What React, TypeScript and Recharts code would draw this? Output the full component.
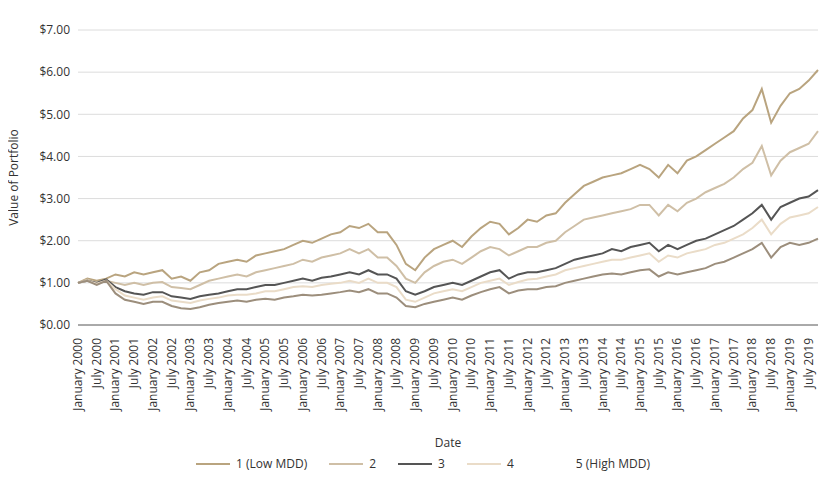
import React from 'react';
import { LineChart, Line, XAxis, YAxis, CartesianGrid, Legend } from 'recharts';

const years = Array.from({ length: 20 }, (_, i) => 2000 + i);
const quarters = ['January', 'April', 'July', 'October'];
const dates = years.flatMap((y) => quarters.map((q) => `${q} ${y}`));

const mdd1 = [
    1.0, 1.1, 1.05, 1.1, 1.2, 1.15, 1.25, 1.2, 1.25, 1.3, 1.1, 1.15, 1.05, 1.25, 1.3, 1.45,
    1.5, 1.55, 1.5, 1.65, 1.7, 1.75, 1.8, 1.9, 2.0, 1.95, 2.05, 2.15, 2.2, 2.35, 2.3, 2.4,
    2.2, 2.2, 1.9, 1.45, 1.3, 1.6, 1.8, 1.9, 2.0, 1.85, 2.1, 2.3, 2.45, 2.4, 2.15, 2.3,
    2.5, 2.45, 2.6, 2.65, 2.9, 3.1, 3.3, 3.4, 3.5, 3.55, 3.6, 3.7, 3.8, 3.7, 3.5, 3.8,
    3.6, 3.9, 4.0, 4.15, 4.3, 4.45, 4.6, 4.9, 5.1, 5.6, 4.8, 5.2, 5.5, 5.6, 5.8, 6.05,
];
const mdd2 = [
    1.0, 1.08, 1.0, 1.05, 1.0, 0.95, 1.0, 0.95, 1.0, 1.02, 0.9, 0.88, 0.85, 0.95, 1.05, 1.1,
    1.15, 1.2, 1.15, 1.25, 1.3, 1.35, 1.4, 1.45, 1.55, 1.5, 1.6, 1.65, 1.7, 1.8, 1.7, 1.8,
    1.6, 1.6, 1.4, 1.1, 1.0, 1.25, 1.4, 1.5, 1.55, 1.45, 1.6, 1.75, 1.85, 1.8, 1.65, 1.75,
    1.85, 1.85, 1.95, 2.0, 2.2, 2.35, 2.5, 2.55, 2.6, 2.65, 2.7, 2.75, 2.85, 2.85, 2.6, 2.85,
    2.7, 2.9, 3.0, 3.15, 3.25, 3.35, 3.5, 3.7, 3.85, 4.25, 3.55, 3.9, 4.1, 4.2, 4.3, 4.6,
];
const mdd3 = [
    1.0, 1.05, 1.0, 1.08, 0.9, 0.8, 0.75, 0.72, 0.78, 0.78, 0.68, 0.65, 0.62, 0.68, 0.72, 0.75,
    0.8, 0.85, 0.85, 0.9, 0.95, 0.95, 1.0, 1.05, 1.1, 1.05, 1.12, 1.15, 1.2, 1.25, 1.2, 1.3,
    1.2, 1.2, 1.1, 0.8, 0.72, 0.8, 0.9, 0.95, 1.0, 0.95, 1.05, 1.15, 1.25, 1.3, 1.1, 1.2,
    1.25, 1.25, 1.3, 1.35, 1.45, 1.55, 1.6, 1.65, 1.7, 1.8, 1.75, 1.85, 1.9, 1.95, 1.75, 1.9,
    1.8, 1.9, 2.0, 2.05, 2.15, 2.25, 2.35, 2.5, 2.65, 2.85, 2.5, 2.8, 2.9, 3.0, 3.05, 3.2,
];
const mdd4 = [
    1.0, 1.05, 0.98, 1.05, 0.85, 0.7, 0.65, 0.6, 0.65, 0.68, 0.58, 0.55, 0.52, 0.58, 0.62, 0.65,
    0.7, 0.72, 0.72, 0.75, 0.8, 0.8, 0.85, 0.9, 0.92, 0.9, 0.95, 0.98, 1.0, 1.05, 1.0, 1.1,
    1.0, 1.0, 0.9, 0.6, 0.55, 0.65, 0.75, 0.8, 0.85, 0.8, 0.9, 1.0, 1.05, 1.1, 0.95, 1.02,
    1.08, 1.1, 1.15, 1.2, 1.3, 1.35, 1.4, 1.45, 1.5, 1.55, 1.55, 1.6, 1.65, 1.7, 1.5, 1.65,
    1.6, 1.7, 1.75, 1.8, 1.9, 1.95, 2.05, 2.15, 2.3, 2.5, 2.15, 2.4, 2.55, 2.6, 2.65, 2.8,
];
const mdd5 = [
    1.0, 1.05, 0.95, 1.05, 0.75, 0.6, 0.55, 0.5, 0.55, 0.55, 0.45, 0.4, 0.38, 0.42, 0.48, 0.52,
    0.55, 0.58, 0.55, 0.6, 0.62, 0.6, 0.65, 0.68, 0.72, 0.7, 0.72, 0.75, 0.78, 0.82, 0.78, 0.85,
    0.75, 0.75, 0.65, 0.45, 0.42, 0.5, 0.55, 0.6, 0.65, 0.6, 0.7, 0.78, 0.85, 0.9, 0.75, 0.82,
    0.85, 0.85, 0.9, 0.92, 1.0, 1.05, 1.1, 1.15, 1.2, 1.22, 1.2, 1.25, 1.3, 1.32, 1.15, 1.25,
    1.2, 1.25, 1.3, 1.35, 1.45, 1.5, 1.6, 1.7, 1.8, 1.95, 1.6, 1.85, 1.95, 1.9, 1.95, 2.05,
];

const yTicks = [0, 1, 2, 3, 4, 5, 6, 7];

const data = dates.map((date, i) => ({
    date,
    s1: mdd1[i],
    s2: mdd2[i],
    s3: mdd3[i],
    s4: mdd4[i],
    s5: mdd5[i],
}));

const series = [
    { key: 's1', name: '1 (Low MDD)', color: '#b9a47f', legend: '#b9a47f' },
    { key: 's2', name: '2', color: '#cfbfa6', legend: '#cfbfa6' },
    { key: 's3', name: '3', color: '#555555', legend: '#555555' },
    { key: 's4', name: '4', color: '#eadcc8', legend: '#eadcc8' },
    { key: 's5', name: '5 (High MDD)', color: '#9c8e7c', legend: '#ffffff' },
];

const font = '"Open Sans", sans-serif';

const DateTick = (props: any) => {
    const { x, y, payload } = props;
    return (
        <g transform={`translate(${x},${y})`}>
            <text transform="rotate(-90)" x={-5} y={4} textAnchor="end" fontSize={12} fill="#333" fontFamily={font}>
                {payload.value}
            </text>
        </g>
    );
};

const LegendContent = () => (
    <div style={{ display: 'flex', justifyContent: 'center', fontFamily: font, fontSize: 12, color: '#333', paddingLeft: 50 }}>
        {series.map((s) => (
            <div key={s.key} style={{ display: 'flex', alignItems: 'center', marginRight: 22 }}>
                <span style={{ display: 'inline-block', width: 34, height: 2, background: s.legend, marginRight: 6 }} />
                {s.name}
            </div>
        ))}
    </div>
);

export default function App() {
    return (
        <div style={{ margin: -8, background: '#fff' }}>
            <LineChart width={828} height={485} data={data} margin={{ top: 30, right: 10, bottom: 0, left: 0 }}>
                <CartesianGrid vertical={false} stroke="#dcdcdc" />
                <XAxis
                    dataKey="date"
                    interval={1}
                    tick={<DateTick />}
                    tickLine={false}
                    axisLine={{ stroke: '#666' }}
                    height={130}
                    label={{ value: 'Date', position: 'insideBottom', offset: 8, fontSize: 12, fill: '#333', fontFamily: font }}
                />
                <YAxis
                    domain={[0, 7]}
                    ticks={yTicks}
                    width={78}
                    tickFormatter={(v: number) => `$${v.toFixed(2)}`}
                    tick={{ fontSize: 12, fill: '#333', fontFamily: font }}
                    axisLine={false}
                    tickLine={false}
                    label={{ value: 'Value of Portfolio', angle: -90, position: 'insideLeft', offset: 14, fontSize: 12, fill: '#333', fontFamily: font, style: { textAnchor: 'middle' } }}
                />
                <Legend verticalAlign="bottom" height={30} content={<LegendContent />} />
                {series.map((s) => (
                    <Line
                        key={s.key}
                        type="linear"
                        dataKey={s.key}
                        name={s.name}
                        stroke={s.color}
                        strokeWidth={2}
                        dot={false}
                        isAnimationActive={false}
                    />
                ))}
            </LineChart>
        </div>
    );
}
